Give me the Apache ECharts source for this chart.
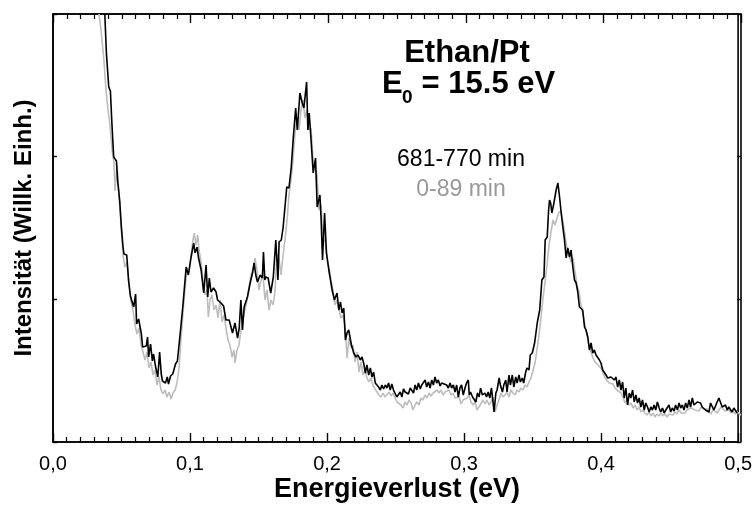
<!DOCTYPE html>
<html>
<head>
<meta charset="utf-8">
<script src="https://cdn.jsdelivr.net/npm/echarts@6/dist/echarts.min.js"></script>
<style>html,body{margin:0;padding:0;background:#fff}#c{width:755px;height:505px}</style>
</head>
<body>
<div id="c"></div>
<script>
// x: energy loss (eV); y: intensity in arbitrary units (axis range 0..428)
const xTicks = [0.0, 0.1, 0.2, 0.3, 0.4, 0.5];
const xLabels = ['0,0', '0,1', '0,2', '0,3', '0,4', '0,5'];
const seriesNames = ['0-89 min', '681-770 min'];
const annotationLines = ['Ethan/Pt', 'E', '0', ' = 15.5 eV'];
const axisTitles = ['Energieverlust (eV)', 'Intensität (Willk. Einh.)'];

const blackEnergy = [
0.0378,0.0390,0.0407,0.0419,0.0429,0.0443,0.0463,0.0472,0.0487,
0.0499,0.0511,0.0518,0.0538,0.0552,0.0565,0.0579,0.0589,0.0603,0.0610,
0.0625,0.0645,0.0654,0.0681,0.0690,0.0698,0.0712,0.0725,0.0734,0.0749,
0.0765,0.0778,0.0790,0.0799,0.0821,0.0834,0.0843,0.0858,0.0874,0.0894,
0.0908,0.0928,0.0947,0.0972,0.0988,0.1008,0.1027,0.1037,0.1052,0.1061,
0.1081,0.1100,0.1117,0.1129,0.1141,0.1153,0.1172,0.1190,0.1201,0.1226,
0.1245,0.1262,0.1286,0.1299,0.1310,0.1328,0.1347,0.1359,0.1371,0.1383,
0.1395,0.1408,0.1419,0.1439,0.1456,0.1468,0.1480,0.1492,0.1512,0.1528,
0.1536,0.1546,0.1553,0.1570,0.1589,0.1608,0.1626,0.1642,0.1650,0.1666,
0.1679,0.1691,0.1706,0.1722,0.1739,0.1754,0.1771,0.1783,0.1802,0.1819,
0.1831,0.1844,0.1851,0.1860,0.1870,0.1880,0.1899,0.1916,0.1928,0.1940,
0.1948,0.1957,0.1967,0.1982,0.1996,0.2013,0.2037,0.2054,0.2073,0.2086,
0.2098,0.2110,0.2122,0.2134,0.2146,0.2158,0.2178,0.2195,0.2211,0.2226,
0.2243,0.2255,0.2267,0.2280,0.2291,0.2304,0.2316,0.2328,0.2340,0.2352,
0.2364,0.2376,0.2389,0.2400,0.2413,0.2425,0.2437,0.2449,0.2461,0.2473,
0.2485,0.2498,0.2509,0.2522,0.2534,0.2546,0.2558,0.2570,0.2582,0.2594,
0.2607,0.2618,0.2631,0.2643,0.2655,0.2667,0.2680,0.2691,0.2703,0.2716,
0.2727,0.2740,0.2752,0.2764,0.2776,0.2788,0.2800,0.2812,0.2825,0.2836,
0.2849,0.2873,0.2885,0.2898,0.2909,0.2922,0.2934,0.2946,0.2958,0.2970,
0.2982,0.2994,0.3007,0.3018,0.3031,0.3038,0.3047,0.3062,0.3072,0.3086,
0.3098,0.3110,0.3120,0.3134,0.3152,0.3164,0.3176,0.3188,0.3200,0.3212,
0.3219,0.3232,0.3241,0.3256,0.3265,0.3280,0.3290,0.3304,0.3314,0.3328,
0.3338,0.3352,0.3363,0.3377,0.3387,0.3401,0.3411,0.3425,0.3435,0.3450,
0.3459,0.3474,0.3483,0.3498,0.3515,0.3534,0.3552,0.3568,0.3583,0.3592,
0.3607,0.3617,0.3624,0.3632,0.3641,0.3656,0.3672,0.3685,0.3697,0.3709,
0.3721,0.3733,0.3745,0.3757,0.3770,0.3781,0.3794,0.3806,0.3818,0.3830,
0.3842,0.3854,0.3866,0.3879,0.3890,0.3903,0.3915,0.3927,0.3939,0.3951,
0.3963,0.3975,0.3988,0.3999,0.4012,0.4024,0.4036,0.4048,0.4060,0.4072,
0.4084,0.4097,0.4108,0.4121,0.4133,0.4145,0.4157,0.4169,0.4181,0.4193,
0.4206,0.4217,0.4230,0.4242,0.4254,0.4266,0.4278,0.4290,0.4302,0.4315,
0.4326,0.4339,0.4351,0.4363,0.4375,0.4387,0.4399,0.4411,0.4424,0.4435,
0.4448,0.4460,0.4472,0.4484,0.4496,0.4508,0.4520,0.4533,0.4544,0.4557,
0.4569,0.4581,0.4593,0.4605,0.4617,0.4629,0.4642,0.4653,0.4666,0.4678,
0.4690,0.4702,0.4714,0.4726,0.4738,0.4751,0.4762,0.4775,0.4787,0.4799,
0.4811,0.4823,0.4835,0.4847,0.4860,0.4871,0.4884,0.4896,0.4908,0.4920,
0.4932,0.4944,0.4956,0.4969,0.4980,0.4993
];
const blackIntensity = [
428,388,355,351,321,285,281,261,241,
215,195,188,187,161,146,145,135,148,118,
123,108,95,96,105,85,98,81,88,75,
65,90,68,61,59,65,58,66,68,78,
81,108,135,175,167,185,199,189,195,185,
172,149,177,145,164,150,154,150,142,139,
136,122,122,123,109,119,104,114,142,112,
135,134,145,159,169,179,167,160,167,164,
190,162,165,164,149,165,202,162,200,202,
214,212,255,254,275,305,334,312,349,339,
334,332,360,312,329,309,269,284,235,234,
247,222,182,229,189,172,152,142,149,132,
140,129,134,102,109,112,97,89,85,87,
82,85,79,69,77,67,74,65,70,59,
57,55,52,57,53,57,54,59,52,58,
52,50,45,47,50,45,53,50,52,48,
54,53,49,57,52,59,53,57,59,62,
55,60,54,62,57,65,59,62,56,59,
59,57,54,59,54,57,50,57,45,54,
57,47,54,59,62,47,50,45,47,40,
49,45,54,47,49,45,50,44,54,39,
30,49,52,64,57,50,57,62,50,67,
57,67,55,65,59,67,60,64,59,70,
74,72,87,89,99,119,132,162,165,202,
205,232,242,239,229,239,252,259,245,229,
215,202,184,194,185,192,175,162,159,150,
135,137,132,115,112,105,92,99,89,92,
87,89,82,79,72,70,67,64,62,65,
67,62,65,55,62,52,60,44,54,37,
49,44,52,40,47,39,44,35,42,32,
39,35,30,35,32,37,32,40,34,30,
34,29,32,30,37,30,34,31,37,32,
39,34,37,32,39,34,42,35,44,37,
35,40,42,39,35,37,32,34,30,39,
37,32,34,40,44,42,35,34,37,32,
35,34,30,34,32,29
];

const greyEnergy = [
0.0334,0.0349,0.0366,0.0371,0.0385,0.0400,0.0414,0.0429,0.0443,
0.0451,0.0465,0.0480,0.0494,0.0509,0.0523,0.0538,0.0552,0.0567,0.0581,
0.0596,0.0610,0.0625,0.0640,0.0654,0.0669,0.0683,0.0698,0.0712,0.0727,
0.0741,0.0756,0.0770,0.0785,0.0799,0.0814,0.0828,0.0843,0.0858,0.0872,
0.0887,0.0901,0.0916,0.0930,0.0945,0.0959,0.0974,0.0988,0.1003,0.1017,
0.1027,0.1039,0.1052,0.1061,0.1076,0.1090,0.1105,0.1119,0.1129,0.1141,
0.1155,0.1170,0.1185,0.1199,0.1214,0.1228,0.1243,0.1257,0.1272,0.1286,
0.1301,0.1315,0.1323,0.1337,0.1352,0.1366,0.1381,0.1395,0.1410,0.1424,
0.1439,0.1453,0.1468,0.1482,0.1497,0.1512,0.1526,0.1541,0.1555,0.1570,
0.1584,0.1599,0.1613,0.1628,0.1642,0.1657,0.1672,0.1686,0.1701,0.1715,
0.1730,0.1744,0.1759,0.1773,0.1788,0.1802,0.1817,0.1831,0.1846,0.1860,
0.1875,0.1890,0.1904,0.1919,0.1933,0.1948,0.1962,0.1977,0.1991,0.2006,
0.2020,0.2035,0.2049,0.2064,0.2078,0.2093,0.2107,0.2122,0.2137,0.2151,
0.2166,0.2180,0.2195,0.2209,0.2224,0.2238,0.2253,0.2267,0.2282,0.2296,
0.2311,0.2326,0.2340,0.2355,0.2369,0.2384,0.2398,0.2413,0.2427,0.2442,
0.2456,0.2471,0.2485,0.2500,0.2514,0.2529,0.2544,0.2558,0.2573,0.2587,
0.2602,0.2616,0.2631,0.2645,0.2660,0.2674,0.2689,0.2703,0.2718,0.2733,
0.2747,0.2762,0.2776,0.2791,0.2805,0.2820,0.2834,0.2849,0.2863,0.2878,
0.2892,0.2907,0.2922,0.2936,0.2951,0.2965,0.2980,0.2994,0.3009,0.3023,
0.3038,0.3052,0.3067,0.3081,0.3096,0.3110,0.3125,0.3140,0.3154,0.3169,
0.3183,0.3198,0.3212,0.3227,0.3241,0.3256,0.3270,0.3285,0.3299,0.3314,
0.3328,0.3343,0.3358,0.3372,0.3387,0.3401,0.3416,0.3430,0.3445,0.3459,
0.3474,0.3488,0.3503,0.3517,0.3532,0.3546,0.3561,0.3576,0.3590,0.3605,
0.3619,0.3634,0.3648,0.3663,0.3677,0.3692,0.3706,0.3721,0.3735,0.3750,
0.3765,0.3779,0.3794,0.3808,0.3823,0.3837,0.3852,0.3866,0.3881,0.3895,
0.3910,0.3924,0.3939,0.3953,0.3968,0.3983,0.3997,0.4012,0.4026,0.4041,
0.4055,0.4070,0.4084,0.4099,0.4113,0.4128,0.4142,0.4157,0.4171,0.4186,
0.4201,0.4215,0.4230,0.4244,0.4259,0.4273,0.4288,0.4302,0.4317,0.4331,
0.4346,0.4360,0.4375,0.4389,0.4404,0.4419,0.4433,0.4448,0.4462,0.4477,
0.4491,0.4506,0.4520,0.4535,0.4549,0.4564,0.4578,0.4593,0.4608,0.4622,
0.4637,0.4651,0.4666,0.4680,0.4695,0.4709,0.4724,0.4738,0.4753,0.4767,
0.4782,0.4796,0.4811,0.4826,0.4840,0.4855,0.4869,0.4884,0.4898,0.4913,
0.4927,0.4942,0.4956,0.4971,0.4985,0.5000
];
const greyIntensity = [
428,412,388,380,352,332,317,292,280,
251,277,247,217,187,175,180,157,140,132,
117,108,114,97,90,82,90,74,80,67,
72,57,65,52,48,52,45,50,43,49,
52,59,74,102,130,152,174,170,187,202,
209,197,207,192,180,162,147,152,125,142,
147,132,137,124,142,120,127,114,102,97,
85,92,79,92,97,112,124,132,142,154,
167,172,184,172,152,162,167,142,152,132,
142,137,150,187,184,167,187,202,222,247,
262,282,310,324,312,332,342,324,332,312,
314,282,274,267,232,237,202,202,184,174,
162,152,137,142,132,124,127,117,84,104,
94,97,80,90,70,80,67,72,64,60,
64,56,57,50,47,45,49,45,47,50,
46,49,44,40,42,37,34,40,37,42,
39,32,37,40,37,44,42,47,44,49,
46,49,47,52,49,52,47,50,48,52,
47,49,44,42,45,38,42,40,44,47,
40,37,40,32,35,37,42,38,42,37,
40,45,30,37,42,49,45,47,50,45,
52,49,47,52,50,54,52,57,55,60,
64,65,79,92,107,124,144,160,177,197,
210,222,217,224,230,230,220,207,194,187,
180,184,170,157,150,137,127,117,107,97,
90,84,80,82,76,74,69,64,62,59,
57,58,54,52,54,49,45,39,42,37,
39,34,37,32,35,30,32,29,27,30,
26,29,25,28,26,29,26,28,25,28,
30,27,30,28,32,29,31,29,32,30,
34,32,32,34,31,35,33,31,33,30,
28,32,31,29,32,35,34,31,30,32,
29,31,28,30,28,27
];

const FONT = '"Liberation Sans", Arial, Helvetica, sans-serif';
const Y_MAX = 428;
function zip(xs, ys) { return xs.map((x, i) => [x, ys[i]]); }
function fmt(v) { const i = xTicks.findIndex(t => Math.abs(t - v) < 1e-9); return i >= 0 ? xLabels[i] : ''; }

function makeX(gridIndex, position, showLabels) {
  return {
    gridIndex: gridIndex, type: 'value', position: position, min: 0, max: 0.5, interval: 0.1,
    splitLine: { show: false },
    axisLine: { show: true, onZero: false, lineStyle: { color: '#000', width: 1.6 } },
    axisTick: { show: true, inside: true, length: 9, lineStyle: { color: '#000', width: 1.4 } },
    minorTick: { show: true, splitNumber: 10, length: 5, lineStyle: { color: '#000', width: 1.2 } },
    axisLabel: showLabels ? { show: true, formatter: fmt, fontSize: 20, margin: 12, color: '#000', fontFamily: FONT } : { show: false }
  };
}
function makeY(gridIndex, position) {
  const a = {
    gridIndex: gridIndex, type: 'value', position: position, min: 0, max: Y_MAX, interval: Y_MAX / 3,
    splitLine: { show: false },
    axisLine: { show: true, onZero: false, lineStyle: { color: '#000', width: 1.6 } },
    axisTick: { show: true, inside: true, length: 4, lineStyle: { color: '#000', width: 1.4 } },
    axisLabel: { show: false }
  };
  if (position === 'left') {
    a.name = axisTitles[1];
    a.nameLocation = 'middle';
    a.nameRotate = 90;
    a.nameGap = 17;
    a.nameTextStyle = { fontSize: 24, fontWeight: 'bold', color: '#000', fontFamily: FONT };
  }
  return a;
}

const chart = echarts.init(document.getElementById('c'));
chart.setOption({
  animation: false,
  grid: [
    { left: 53, right: 14, top: 14, bottom: 63, show: true, borderColor: '#000', borderWidth: 1.6 },
    { left: 53, right: 14, top: 14, bottom: 63 }
  ],
  xAxis: [makeX(0, 'bottom', true), makeX(1, 'top', false)],
  yAxis: [makeY(0, 'left'), makeY(1, 'right')],
  series: [
    { type: 'line', xAxisIndex: 1, yAxisIndex: 1, data: zip(greyEnergy, greyIntensity), symbol: 'none', lineStyle: { color: '#bdbdbd', width: 1.6 } },
    { type: 'line', xAxisIndex: 0, yAxisIndex: 0, data: zip(blackEnergy, blackIntensity), symbol: 'none', lineStyle: { color: '#000', width: 1.6 } }
  ],
  graphic: [
    { type: 'text', x: 397, y: 490, style: { text: axisTitles[0], font: 'bold 27px ' + FONT, fill: '#000', align: 'center', verticalAlign: 'middle' } },
    { type: 'text', x: 467, y: 53, style: { text: annotationLines[0], font: 'bold 31px ' + FONT, fill: '#000', align: 'center', verticalAlign: 'middle' } },
    { type: 'text', x: 382, y: 84, style: { text: annotationLines[1], font: 'bold 31px ' + FONT, fill: '#000', align: 'left', verticalAlign: 'middle' } },
    { type: 'text', x: 402, y: 98, style: { text: annotationLines[2], font: 'bold 19px ' + FONT, fill: '#000', align: 'left', verticalAlign: 'middle' } },
    { type: 'text', x: 413, y: 84, style: { text: annotationLines[3], font: 'bold 31px ' + FONT, fill: '#000', align: 'left', verticalAlign: 'middle' } },
    { type: 'text', x: 461, y: 160, style: { text: seriesNames[1], font: '23px ' + FONT, fill: '#000', align: 'center', verticalAlign: 'middle' } },
    { type: 'text', x: 461, y: 190, style: { text: seriesNames[0], font: '23px ' + FONT, fill: '#999999', align: 'center', verticalAlign: 'middle' } }
  ]
});
</script>
</body>
</html>
